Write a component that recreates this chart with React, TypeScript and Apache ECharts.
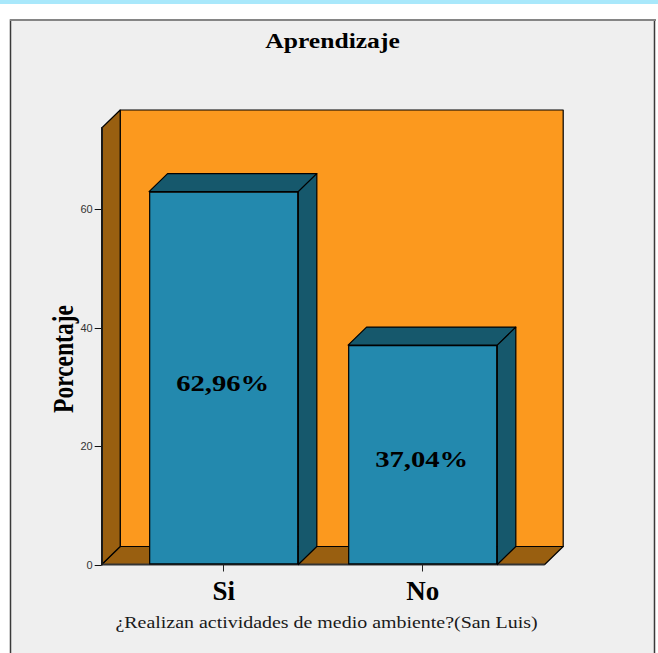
import React, { useEffect, useRef } from "react";
import * as echarts from "echarts";

const categories = ["Si", "No"];
const percentages = [62.96, 37.04];
const yTicks = [0, 20, 40, 60];
const yMax = 73.7;

const titleText = "Aprendizaje";
const yName = "Porcentaje";
const xName = "¿Realizan actividades de medio ambiente?(San Luis)";

const SERIF = '"Liberation Serif", "Times New Roman", serif';
const SANS = '"Liberation Sans", Arial, sans-serif';
const C = {
  stripe: "#a9e8fb",
  panel: "#efefef",
  wall: "#fc991e",
  wallDark: "#995f10",
  bar: "#2389ae",
  barDark: "#16586c",
  ink: "#000000",
};
const DX = 18.5;
const DY = 18;
const PAD = 22.5;
const TICK = 7;
const STRETCH = 1.22;

const lineStyle = (fill: string) => ({ fill, stroke: C.ink, lineWidth: 1.2, lineJoin: "round" });

export default function App() {
  const ref = useRef<HTMLDivElement>(null);
  useEffect(() => {
    const chart = echarts.init(ref.current!, null, { renderer: "svg" });
    const data = categories.map((c, i) => [c, percentages[i]]);
    chart.setOption({
      animation: false,
      backgroundColor: "#ffffff",
      graphic: [
        { type: "rect", z: -10, shape: { x: 0, y: 0, width: 658, height: 4 }, style: { fill: C.stripe } },
        {
          type: "rect",
          z: -10,
          shape: { x: 10.5, y: 20, width: 644, height: 640 },
          style: { fill: C.panel, stroke: "#3a3a3a", lineWidth: 1.5 },
        },
        { type: "rect", z: -9, shape: { x: 10, y: 19, width: 646, height: 2 }, style: { fill: "#858585" } },
        {
          type: "text",
          x: 332.5,
          y: 41,
          scaleX: STRETCH,
          style: { text: titleText, font: `bold 21px ${SERIF}`, fill: C.ink, textAlign: "center", textVerticalAlign: "middle" },
        },
        {
          type: "text",
          x: 64,
          y: 359,
          rotation: Math.PI / 2,
          scaleY: STRETCH,
          style: { text: yName, font: `bold 23.5px ${SERIF}`, fill: C.ink, textAlign: "center", textVerticalAlign: "middle" },
        },
        {
          type: "text",
          x: 326.5,
          y: 623,
          scaleX: STRETCH,
          style: { text: xName, font: `16.35px ${SERIF}`, fill: "#1a1a1a", textAlign: "center", textVerticalAlign: "middle" },
        },
      ],
      grid: { left: 124.2, width: 398, top: 128, bottom: 88.5 },
      xAxis: {
        type: "category",
        data: categories,
        z: 6,
        axisLine: { show: false },
        axisTick: { show: true, alignWithLabel: true, length: TICK, lineStyle: { color: "#222", width: 1 } },
        axisLabel: { fontFamily: SERIF, fontWeight: "bold", fontSize: 27, color: C.ink, margin: 13 },
      },
      yAxis: {
        type: "value",
        min: 0,
        max: yMax,
        offset: PAD,
        z: 6,
        splitLine: { show: false },
        axisLine: { show: true, lineStyle: { color: "#1a1a1a", width: 2 } },
        axisTick: { show: false },
        axisLabel: { customValues: yTicks, fontFamily: SANS, fontSize: 11, color: "#333", margin: 9 },
      },
      series: [
        {
          type: "custom",
          z: 1,
          silent: true,
          data: [[categories[0], 0]],
          renderItem: (params: any, api: any) => {
            const cs = params.coordSys;
            const base = api.coord([0, 0])[1];
            const top = api.coord([0, yMax])[1];
            const l = cs.x - PAD;
            const r = cs.x + cs.width + PAD;
            return {
              type: "group",
              children: [
                {
                  type: "polygon",
                  shape: { points: [[l + DX, top - DY], [r + DX, top - DY], [r + DX, base - DY], [l + DX, base - DY]] },
                  style: lineStyle(C.wall),
                },
                {
                  type: "polygon",
                  shape: { points: [[l, base], [l + DX, base - DY], [r + DX, base - DY], [r, base]] },
                  style: lineStyle(C.wallDark),
                },
                {
                  type: "polygon",
                  shape: { points: [[l, base], [l + DX, base - DY], [l + DX, top - DY], [l, top]] },
                  style: lineStyle(C.wallDark),
                },
                { type: "line", shape: { x1: l, y1: base, x2: r, y2: base }, style: { stroke: "#333", lineWidth: 2 } },
                ...yTicks.map((t) => {
                  const y = Math.round(api.coord([0, t])[1]) + 0.5;
                  return { type: "line", shape: { x1: l - TICK, y1: y, x2: l, y2: y }, style: { stroke: "#111", lineWidth: 1 } };
                }),
              ],
            };
          },
        },
        {
          type: "custom",
          z: 2,
          silent: true,
          data,
          renderItem: (_: any, api: any) => {
            const [cx, vy] = api.coord([api.value(0), api.value(1)]);
            const base = api.coord([api.value(0), 0])[1];
            const half = (api.size([1, 0])[0] * 0.75) / 2;
            const l = cx - half;
            const r = cx + half;
            return {
              type: "group",
              children: [
                {
                  type: "polygon",
                  shape: { points: [[l, vy], [l + DX, vy - DY], [r + DX, vy - DY], [r, vy]] },
                  style: lineStyle(C.barDark),
                },
                {
                  type: "polygon",
                  shape: { points: [[r, vy], [r + DX, vy - DY], [r + DX, base - DY], [r, base]] },
                  style: lineStyle(C.barDark),
                },
              ],
            };
          },
        },
        {
          type: "bar",
          z: 3,
          barWidth: "75%",
          silent: true,
          data: percentages,
          itemStyle: { color: C.bar, borderColor: C.ink, borderWidth: 1.2 },
        },
        {
          type: "custom",
          z: 4,
          silent: true,
          data,
          renderItem: (_: any, api: any) => {
            const value = api.value(1) as number;
            const [cx, cy] = api.coord([api.value(0), value / 2]);
            return {
              type: "text",
              x: cx - 1,
              y: cy + 5,
              scaleX: STRETCH,
              style: {
                text: `${value.toFixed(2).replace(".", ",")}%`,
                font: `bold 23.5px ${SERIF}`,
                fill: C.ink,
                textAlign: "center",
                textVerticalAlign: "middle",
              },
            };
          },
        },
      ],
    });
    return () => chart.dispose();
  }, []);
  return <div ref={ref} style={{ position: "absolute", left: 0, top: 0, width: 658, height: 653 }} />;
}
